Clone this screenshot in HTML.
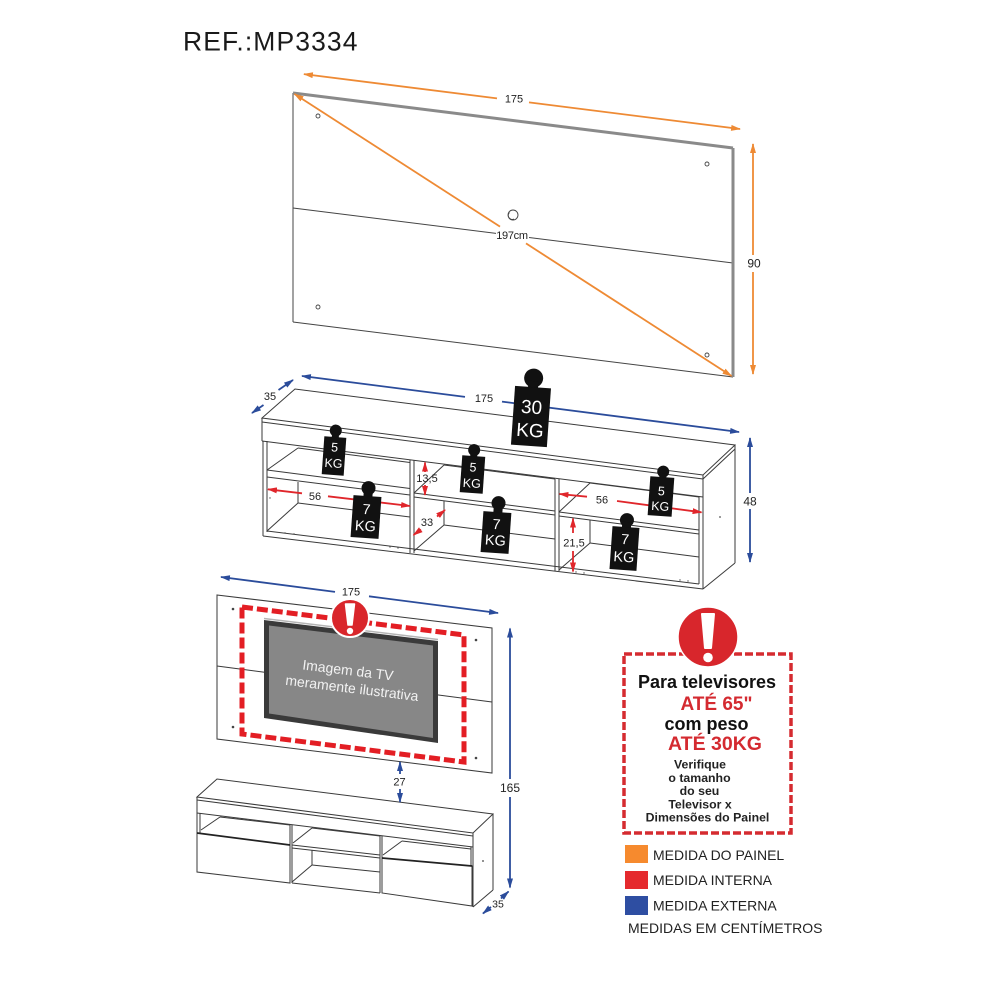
<!DOCTYPE html>
<html><head><meta charset="utf-8"><style>
html,body{margin:0;padding:0;background:#fff;}
svg{display:block;}
text{font-family:"Liberation Sans",Arial,sans-serif;}
</style></head><body>
<svg width="1000" height="1000" viewBox="0 0 1000 1000" xmlns="http://www.w3.org/2000/svg">
<defs>
<marker id="mo" viewBox="0 0 10 6" refX="9" refY="3" markerWidth="10" markerHeight="6" markerUnits="userSpaceOnUse" orient="auto"><path d="M0,0L10,3L0,6z" fill="#ee8a34"/></marker>
<marker id="mb" viewBox="0 0 10 6" refX="9" refY="3" markerWidth="10" markerHeight="6" markerUnits="userSpaceOnUse" orient="auto"><path d="M0,0L10,3L0,6z" fill="#2b4c9b"/></marker>
<marker id="mr" viewBox="0 0 10 6" refX="9" refY="3" markerWidth="10" markerHeight="6" markerUnits="userSpaceOnUse" orient="auto"><path d="M0,0L10,3L0,6z" fill="#e0262b"/></marker>
</defs>
<rect width="1000" height="1000" fill="#fff"/>

<!-- Title -->
<text x="183" y="50.5" font-size="26.5" letter-spacing="1.1" fill="#1a1a1a">REF.:MP3334</text>

<!-- ===== Top panel ===== -->
<g stroke="#444" stroke-width="1" fill="none">
<line x1="293" y1="93" x2="293" y2="322"/>
<line x1="293" y1="322" x2="733" y2="377"/>
<line x1="293" y1="208" x2="733" y2="263"/>
</g>
<line x1="293" y1="93" x2="733" y2="148" stroke="#8a8a8a" stroke-width="3"/>
<line x1="733" y1="148" x2="733" y2="377" stroke="#8a8a8a" stroke-width="3"/>
<g stroke="#444" stroke-width="0.9" fill="#fff">
<circle cx="318" cy="116" r="2"/>
<circle cx="707" cy="164" r="2"/>
<circle cx="318" cy="307" r="2"/>
<circle cx="707" cy="355" r="2"/>
<circle cx="513" cy="215" r="5"/>
<path d="M509.5,212.5 A4,4 0 0 0 514,219" fill="none"/>
</g>
<g stroke="#ee8a34" stroke-width="1.8" fill="none">
<line x1="497" y1="98.4" x2="304" y2="74.1" marker-end="url(#mo)"/>
<line x1="529" y1="102.4" x2="740" y2="129" marker-end="url(#mo)"/>
<line x1="753" y1="255" x2="753" y2="144" marker-end="url(#mo)"/>
<line x1="753" y1="272" x2="753" y2="374" marker-end="url(#mo)"/>
<line x1="500" y1="226.6" x2="294.5" y2="94" marker-end="url(#mo)"/>
<line x1="526" y1="243.4" x2="731.5" y2="376" marker-end="url(#mo)"/>
</g>
<rect x="496" y="229" width="33" height="12" fill="#fff"/>
<g fill="#222" font-size="11" text-anchor="middle">
<text x="514" y="102.3">175</text>
<text x="512" y="239.2" letter-spacing="-0.3">197cm</text>
<text x="754" y="267.5" font-size="12">90</text>
</g>

<!-- ===== Middle rack ===== -->
<g stroke="#3a3a3a" stroke-width="1" fill="none">
<path d="M262,418 L295,389 L735,445 L703,475 Z"/>
<line x1="262" y1="422" x2="703" y2="479"/>
<line x1="262" y1="441" x2="703" y2="497"/>
<line x1="262" y1="418" x2="262" y2="441"/>
<line x1="703" y1="479" x2="735" y2="449"/>
<line x1="703" y1="475" x2="703" y2="589"/>
<line x1="735" y1="445" x2="735" y2="563"/>
<line x1="703" y1="589" x2="735" y2="563"/>
<line x1="263" y1="441" x2="263" y2="536"/>
<line x1="267" y1="441" x2="267" y2="532"/>
<line x1="263" y1="536" x2="703" y2="589"/>
<line x1="267" y1="531" x2="699" y2="584"/>
<line x1="699" y1="497" x2="699" y2="584"/>
<line x1="410" y1="460" x2="410" y2="553"/>
<line x1="414" y1="460.5" x2="414" y2="553"/>
<line x1="555" y1="479" x2="555" y2="571"/>
<line x1="559" y1="479" x2="559" y2="571"/>
<!-- comp1 -->
<line x1="267" y1="470" x2="298" y2="448"/>
<line x1="298" y1="448" x2="410" y2="462.5"/>
<line x1="267" y1="470" x2="410" y2="488.5"/>
<line x1="267" y1="477" x2="410" y2="495"/>
<line x1="298" y1="482" x2="298" y2="503"/>
<line x1="267" y1="531" x2="298" y2="503"/>
<line x1="298" y1="503" x2="410" y2="517"/>
<!-- comp2 -->
<line x1="414" y1="493" x2="444" y2="465"/>
<line x1="444" y1="465" x2="555" y2="479"/>
<line x1="414" y1="493" x2="555" y2="511"/>
<line x1="414" y1="497" x2="555" y2="515"/>
<line x1="444" y1="501" x2="444" y2="525"/>
<line x1="414" y1="551" x2="444" y2="525"/>
<line x1="444" y1="525" x2="555" y2="539"/>
<!-- comp3 -->
<line x1="559" y1="512" x2="590" y2="483"/>
<line x1="590" y1="483" x2="699" y2="497"/>
<line x1="559" y1="512" x2="699" y2="530"/>
<line x1="559" y1="516" x2="699" y2="534"/>
<line x1="590" y1="520" x2="590" y2="543"/>
<line x1="559" y1="570" x2="590" y2="543"/>
<line x1="590" y1="543" x2="699" y2="557"/>
</g>
<g fill="#555">
<circle cx="720" cy="517" r="0.9"/>
<circle cx="270" cy="498" r="0.7"/>
<circle cx="285" cy="533" r="0.7"/><circle cx="294" cy="534" r="0.7"/>
<circle cx="390" cy="547" r="0.7"/><circle cx="398" cy="548" r="0.7"/>
<circle cx="576" cy="572" r="0.7"/><circle cx="584" cy="573" r="0.7"/>
<circle cx="680" cy="580" r="0.7"/><circle cx="688" cy="581" r="0.7"/>
</g>

<!-- blue dims rack -->
<g stroke="#2b4c9b" stroke-width="1.8" fill="none">
<line x1="465" y1="396.9" x2="302" y2="376" marker-end="url(#mb)"/>
<line x1="502" y1="401.6" x2="739" y2="432" marker-end="url(#mb)"/>
<line x1="263.5" y1="405" x2="252" y2="413" marker-end="url(#mb)"/>
<line x1="278.5" y1="390" x2="293" y2="380" marker-end="url(#mb)"/>
<line x1="750" y1="493" x2="750" y2="438" marker-end="url(#mb)"/>
<line x1="750" y1="509" x2="750" y2="562" marker-end="url(#mb)"/>
</g>
<!-- red dims rack -->
<g stroke="#e0262b" stroke-width="1.8" fill="none">
<line x1="302" y1="493.3" x2="268" y2="489.3" marker-end="url(#mr)"/>
<line x1="328" y1="496.3" x2="410" y2="506" marker-end="url(#mr)"/>
<line x1="425" y1="472" x2="425" y2="462.5" marker-end="url(#mr)"/>
<line x1="425" y1="485" x2="425" y2="495" marker-end="url(#mr)"/>
<line x1="421" y1="529.5" x2="413.5" y2="535" marker-end="url(#mr)"/>
<line x1="437" y1="516.5" x2="445" y2="510" marker-end="url(#mr)"/>
<line x1="587" y1="496.7" x2="559.5" y2="494" marker-end="url(#mr)"/>
<line x1="617" y1="501" x2="701.5" y2="512.3" marker-end="url(#mr)"/>
<line x1="573" y1="533" x2="573" y2="518.5" marker-end="url(#mr)"/>
<line x1="573" y1="551" x2="573" y2="571.5" marker-end="url(#mr)"/>
</g>
<g fill="#222" font-size="11" text-anchor="middle">
<text x="484" y="402">175</text>
<text x="270" y="400">35</text>
<text x="750" y="505.5" font-size="12">48</text>
<text x="315" y="500">56</text>
<text x="427" y="482">13,5</text>
<text x="427" y="526">33</text>
<text x="602" y="503.3">56</text>
<text x="574" y="546.3">21,5</text>
</g>

<!-- weights -->
<g fill="#111">
<g transform="rotate(4 531 416)">
<circle cx="531" cy="378" r="9.5"/><rect x="526" y="381" width="10" height="8"/><rect x="513" y="387" width="36" height="59"/>
<text x="531" y="413.5" font-size="19" fill="#fff" text-anchor="middle">30</text>
<text x="531" y="436.8" font-size="19" fill="#fff" text-anchor="middle">KG</text>
</g>
<g transform="rotate(4 334 456)">
<circle cx="334" cy="430.5" r="6"/><rect x="330.5" y="432" width="7" height="6"/><rect x="323" y="437" width="22" height="38"/>
<text x="334" y="451.5" font-size="12.5" fill="#fff" text-anchor="middle">5</text>
<text x="334" y="467.5" font-size="12.5" fill="#fff" text-anchor="middle">KG</text>
</g>
<g transform="rotate(4 472.5 474)">
<circle cx="472.5" cy="450" r="6"/><rect x="469" y="452" width="7" height="6"/><rect x="461" y="456" width="23" height="37"/>
<text x="472.5" y="471.5" font-size="12.5" fill="#fff" text-anchor="middle">5</text>
<text x="472.5" y="487.5" font-size="12.5" fill="#fff" text-anchor="middle">KG</text>
</g>
<g transform="rotate(4 661 496)">
<circle cx="661.5" cy="471.5" r="6"/><rect x="658" y="473" width="7" height="6"/><rect x="649" y="477" width="24" height="39"/>
<text x="661" y="495.2" font-size="12.5" fill="#fff" text-anchor="middle">5</text>
<text x="661" y="510.5" font-size="12.5" fill="#fff" text-anchor="middle">KG</text>
</g>
<g transform="rotate(4 366 517)">
<circle cx="366.5" cy="488" r="7"/><rect x="362" y="490" width="9" height="7"/><rect x="352" y="496" width="28" height="42"/>
<text x="366" y="514.2" font-size="14.5" fill="#fff" text-anchor="middle">7</text>
<text x="366" y="530.9" font-size="14.5" fill="#fff" text-anchor="middle">KG</text>
</g>
<g transform="rotate(4 496 532)">
<circle cx="496.5" cy="503" r="7"/><rect x="492" y="505" width="9" height="8"/><rect x="482" y="512" width="28" height="41"/>
<text x="496" y="529.2" font-size="14.5" fill="#fff" text-anchor="middle">7</text>
<text x="496" y="545.2" font-size="14.5" fill="#fff" text-anchor="middle">KG</text>
</g>
<g transform="rotate(4 624.5 548)">
<circle cx="625" cy="520" r="7"/><rect x="620.5" y="522" width="9" height="6"/><rect x="611" y="527" width="27" height="43"/>
<text x="624.5" y="544.2" font-size="14.5" fill="#fff" text-anchor="middle">7</text>
<text x="624.5" y="561.9" font-size="14.5" fill="#fff" text-anchor="middle">KG</text>
</g>
</g>

<!-- ===== Bottom assembled view ===== -->
<g stroke="#3a3a3a" stroke-width="1" fill="none">
<path d="M217,595 L492,628 L492,773 L217,739 Z"/>
<line x1="217" y1="666" x2="492" y2="702"/>
</g>
<g fill="#444">
<circle cx="233" cy="609" r="1.3"/><circle cx="476" cy="640" r="1.3"/>
<circle cx="233" cy="727" r="1.3"/><circle cx="476" cy="758" r="1.3"/>
</g>
<path d="M264,620 L438,641 L438,743 L264,718 Z" fill="#3a3a3a"/>
<path d="M269,625.5 L433,645.5 L433,738 L269,713.5 Z" fill="#878787"/>
<line x1="264" y1="618.5" x2="438" y2="639.5" stroke="#b5b5b5" stroke-width="1.5"/>
<g fill="#f2f2f2" font-size="14" text-anchor="middle">
<text x="348" y="675" transform="rotate(7 348 670)">Imagem da TV</text>
<text x="352" y="693" transform="rotate(7 352 688)">meramente ilustrativa</text>
</g>
<path d="M242,607 L464,635 L464,762 L242,734 Z" fill="none" stroke="#e31e24" stroke-width="5" stroke-dasharray="11 4"/>
<circle cx="350" cy="618" r="19" fill="#d9262b" stroke="#fff" stroke-width="2"/>
<path d="M345.5,604 L354.5,604 L352,625 L348,625 Z" fill="#fff" stroke="#fff" stroke-width="1.5" stroke-linejoin="round"/>
<circle cx="350" cy="631" r="3.2" fill="#fff"/>

<!-- small rack -->
<g stroke="#3a3a3a" stroke-width="1" fill="none">
<path d="M197,797 L217,779 L493,814 L473,833 Z"/>
<line x1="197" y1="800" x2="473" y2="836"/>
<line x1="197" y1="813" x2="473" y2="847"/>
<line x1="197" y1="797" x2="197" y2="813"/>
<line x1="197" y1="813" x2="197" y2="872"/>
<line x1="200" y1="813" x2="200" y2="833"/>
<line x1="473" y1="833" x2="473" y2="907"/>
<line x1="493" y1="814" x2="493" y2="890"/>
<line x1="473" y1="907" x2="493" y2="890"/>
<line x1="201" y1="830" x2="220" y2="817"/>
<line x1="220" y1="817" x2="290" y2="825"/>
<path d="M197,833 L290,845 L290,883 L197,872 Z"/>
<line x1="290" y1="825" x2="290" y2="883"/>
<line x1="292" y1="825" x2="292" y2="883"/>
<line x1="293" y1="843" x2="312" y2="828"/>
<line x1="312" y1="828" x2="380" y2="836"/>
<line x1="292" y1="845" x2="380" y2="855"/>
<line x1="292" y1="848" x2="380" y2="858"/>
<line x1="312" y1="850" x2="312" y2="865"/>
<line x1="312" y1="865" x2="380" y2="872"/>
<line x1="292" y1="882" x2="312" y2="865"/>
<line x1="292" y1="883" x2="380" y2="893"/>
<line x1="380" y1="836" x2="380" y2="893"/>
<line x1="382" y1="836" x2="382" y2="893"/>
<line x1="383" y1="855" x2="402" y2="841"/>
<line x1="402" y1="841" x2="471" y2="849"/>
<path d="M382,858 L472,866 L472,906 L382,893 Z"/>
<line x1="471" y1="847" x2="471" y2="866"/>
</g>
<line x1="197" y1="833" x2="290" y2="845" stroke="#222" stroke-width="1.8"/>
<line x1="382" y1="858" x2="472" y2="866" stroke="#222" stroke-width="1.8"/>
<circle cx="483" cy="861" r="0.9" fill="#444"/>

<!-- blue dims bottom -->
<g stroke="#2b4c9b" stroke-width="1.8" fill="none">
<line x1="335" y1="591.9" x2="221" y2="577" marker-end="url(#mb)"/>
<line x1="369" y1="596.3" x2="498" y2="613" marker-end="url(#mb)"/>
<line x1="510" y1="779" x2="510" y2="628.5" marker-end="url(#mb)"/>
<line x1="510" y1="797" x2="510" y2="887.5" marker-end="url(#mb)"/>
<line x1="400" y1="774" x2="400" y2="762" marker-end="url(#mb)"/>
<line x1="400" y1="789" x2="400" y2="802" marker-end="url(#mb)"/>
<line x1="491" y1="907" x2="483" y2="913.5" marker-end="url(#mb)"/>
<line x1="501" y1="898.5" x2="508.5" y2="891.5" marker-end="url(#mb)"/>
</g>
<g fill="#222" font-size="11" text-anchor="middle">
<text x="351" y="595.5">175</text>
<text x="510" y="792" font-size="12">165</text>
<text x="399.5" y="785.5">27</text>
<text x="498" y="907.5" font-size="10.5">35</text>
</g>

<!-- ===== Legend box ===== -->
<rect x="624" y="654" width="167" height="179" fill="#fff" stroke="#d52b30" stroke-width="3.5" stroke-dasharray="8 3"/>
<circle cx="708" cy="637" r="30" fill="#d8262c" stroke="#fff" stroke-width="1.5"/>
<path d="M702,614 L714,614 L711,648 L705,648 Z" fill="#fff" stroke="#fff" stroke-width="2" stroke-linejoin="round"/>
<circle cx="708" cy="657.5" r="4.8" fill="#fff"/>
<g font-weight="bold" text-anchor="middle">
<text x="707" y="688" font-size="18" fill="#111">Para televisores</text>
<text x="716.5" y="710" font-size="19" fill="#d42a30">ATÉ 65"</text>
<text x="706.5" y="730" font-size="18" fill="#111">com peso</text>
<text x="715" y="750" font-size="19.5" fill="#d42a30">ATÉ 30KG</text>
<g font-size="12.3" fill="#222">
<text x="700" y="768.3">Verifique</text>
<text x="699.5" y="782">o tamanho</text>
<text x="699.5" y="795">do seu</text>
<text x="700" y="808.3">Televisor x</text>
<text x="707.5" y="821.6">Dimensões do Painel</text>
</g>
</g>
<rect x="625" y="845" width="23" height="18" fill="#f68a2e"/>
<rect x="625" y="871" width="23" height="18" fill="#e52a2e"/>
<rect x="625" y="896" width="23" height="19" fill="#2e4ea2"/>
<g font-size="14" fill="#222">
<text x="653" y="860">MEDIDA DO PAINEL</text>
<text x="653" y="885">MEDIDA INTERNA</text>
<text x="653" y="910.5">MEDIDA EXTERNA</text>
<text x="628" y="933">MEDIDAS EM CENTÍMETROS</text>
</g>
</svg>
</body></html>
